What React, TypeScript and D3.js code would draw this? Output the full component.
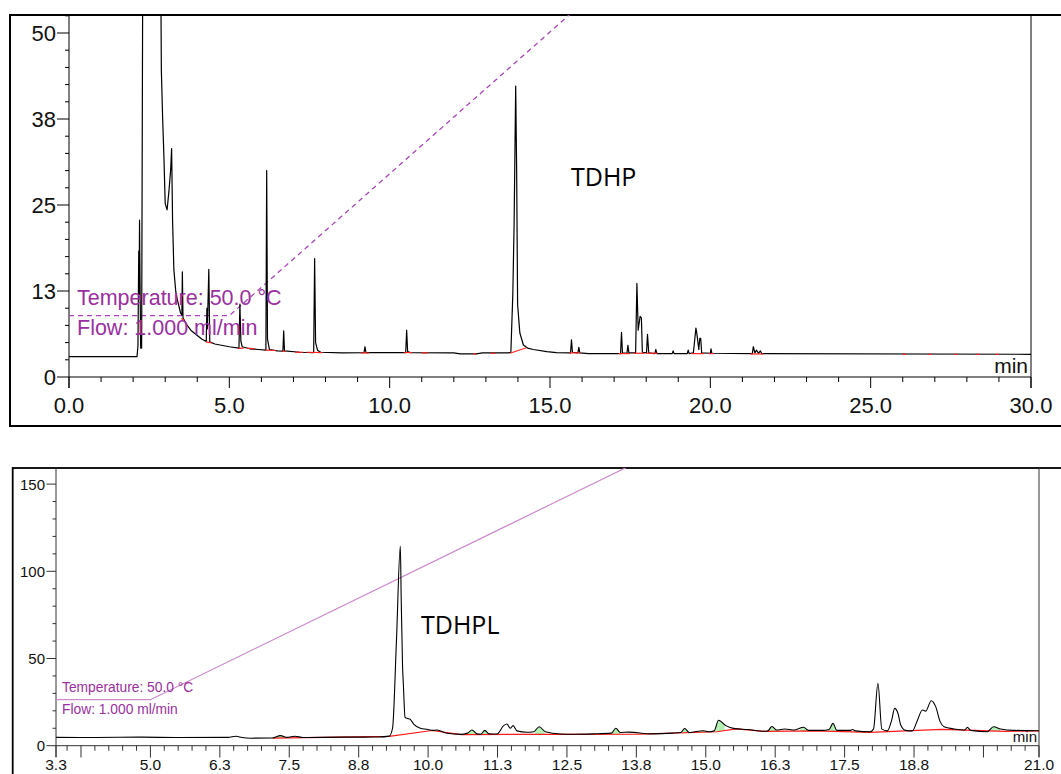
import React from 'react';
import * as d3 from 'd3';

// ---------- TOP CHART DATA (TDHP) ----------
// [time (min), signal]
const topTrace: [number, number][] = [
  [0, 2.95], [2.12, 2.95], [2.15, 4.5], [2.175, 18.3], [2.185, 12], [2.2, 22.8], [2.215, 13.7],
  [2.235, 4.2], [2.265, 4.2], [2.3, 60], [2.86, 60], [2.88, 44.6], [2.92, 37.6], [2.96, 32],
  [3.0, 25.2], [3.06, 24.3], [3.12, 27.2], [3.17, 30.1], [3.2, 33.2], [3.23, 22.8], [3.27, 15.6],
  [3.33, 12.4], [3.38, 11.2], [3.48, 9.3], [3.52, 9.0], [3.535, 15.3], [3.555, 8.6], [3.67, 7.6],
  [3.8, 6.8], [3.98, 6.1], [4.15, 5.5], [4.28, 5.15], [4.3, 10.0], [4.315, 7], [4.36, 15.65],
  [4.39, 5.1], [4.55, 4.8], [4.71, 4.65], [5.0, 4.4], [5.3, 4.2], [5.33, 10.6], [5.36, 5.2],
  [5.4, 4.4], [5.64, 4.1], [5.9, 4.0], [6.14, 3.9], [6.165, 30.0], [6.19, 5.5], [6.25, 4.0],
  [6.5, 3.8], [6.67, 3.75], [6.695, 6.7], [6.72, 3.8], [7.2, 3.6], [7.63, 3.55], [7.66, 17.2],
  [7.69, 5.0], [7.75, 3.9], [7.85, 3.6], [8.5, 3.5], [9.2, 3.55], [9.23, 4.4], [9.26, 3.55],
  [10.5, 3.55], [10.53, 6.8], [10.56, 3.7], [10.65, 3.55], [12.0, 3.5], [12.2, 3.35], [12.7, 3.35],
  [12.9, 3.5], [13.7, 3.5], [13.78, 3.6], [13.84, 12], [13.88, 22], [13.93, 42.3], [13.96, 30],
  [13.99, 10.5], [14.06, 6.4], [14.17, 4.65], [14.3, 4.2], [14.48, 4.0], [14.9, 3.7], [15.2, 3.55],
  [15.64, 3.5], [15.67, 5.4], [15.7, 3.6], [15.87, 3.5], [15.9, 4.3], [15.93, 3.5], [16.2, 3.4],
  [17.2, 3.4], [17.23, 6.5], [17.26, 3.5], [17.4, 3.45], [17.43, 4.6], [17.46, 3.5], [17.67, 3.5],
  [17.71, 13.6], [17.75, 6.8], [17.81, 8.8], [17.85, 8.6], [17.88, 3.6], [18.01, 3.5], [18.04, 6.2],
  [18.08, 3.5], [18.27, 3.4], [18.3, 4.0], [18.33, 3.4], [18.81, 3.4], [18.84, 3.8], [18.87, 3.4],
  [19.28, 3.4], [19.31, 3.9], [19.34, 3.4], [19.47, 3.5], [19.5, 4.8], [19.55, 7.1], [19.58, 6.3],
  [19.64, 4.0], [19.67, 5.6], [19.7, 5.6], [19.73, 3.5], [20.0, 3.45], [20.02, 4.1], [20.05, 3.45],
  [21.31, 3.4], [21.34, 4.4], [21.39, 3.5], [21.44, 3.9], [21.5, 3.45], [21.56, 3.8], [21.6, 3.4],
  [30, 3.3],
];
// integration baselines [t1, v1, t2, v2]
const topRedSegments: [number, number, number, number][] = [
  [3.5, 8.5, 3.58, 8.3], [4.27, 5.1, 4.45, 4.95], [5.28, 4.15, 5.45, 4.2], [5.55, 4.2, 5.8, 4.1],
  [6.12, 3.9, 6.45, 3.85], [6.65, 3.75, 6.75, 3.75], [7.05, 3.6, 7.3, 3.6], [7.4, 3.6, 7.9, 3.55],
  [9.1, 3.5, 9.35, 3.5], [10.45, 3.55, 10.7, 3.55], [11.0, 3.5, 11.2, 3.5], [12.6, 3.35, 12.7, 3.35],
  [13.15, 3.45, 13.3, 3.45], [13.75, 3.45, 14.27, 4.25], [15.6, 3.5, 15.95, 3.5],
  [17.15, 3.4, 17.5, 3.4], [17.6, 3.45, 17.95, 3.45], [18.0, 3.45, 18.35, 3.45],
  [19.4, 3.4, 19.8, 3.4], [19.95, 3.4, 20.1, 3.4], [21.25, 3.35, 21.65, 3.35],
  [26.0, 3.3, 26.1, 3.3], [26.8, 3.3, 26.9, 3.3], [27.6, 3.3, 27.7, 3.3], [28.3, 3.3, 28.4, 3.3],
  [28.9, 3.3, 29.0, 3.3],
];
const topXTicks = [0, 5, 10, 15, 20, 25, 30];
const topXTickLabels = ['0.0', '5.0', '10.0', '15.0', '20.0', '25.0', '30.0'];
const topYTicks = [0, 12.5, 25, 37.5, 50];
const topYTickLabels = ['0', '13', '25', '38', '50'];

// temperature program (°C)
const tempTimes = [0, 5.0, 30];
const tempValues = [50, 50, 300];

// ---------- BOTTOM CHART DATA (TDHPL) ----------
const bottomTrace: [number, number][] = [
  [3.3, 4.8], [4.0, 4.7], [4.8, 4.9], [5.5, 4.7], [6.4, 4.8], [6.54, 5.4], [6.65, 4.7], [6.8, 4.3],
  [7.2, 4.4], [7.34, 5.8], [7.46, 4.8], [7.6, 5.4], [7.75, 4.7], [8.5, 4.9], [9.1, 5.0], [9.3, 5.5],
  [9.36, 10], [9.43, 60], [9.5, 114.5], [9.515, 86], [9.54, 45.5], [9.555, 35], [9.585, 16.3],
  [9.63, 15.6], [9.67, 15.3], [9.74, 12.4], [9.86, 10.0], [9.98, 9.4], [10.08, 8.8], [10.16, 9.0],
  [10.34, 7.1], [10.58, 6.5], [10.71, 7.2], [10.79, 9.0], [10.88, 6.8], [10.95, 6.6], [11.02, 8.8],
  [11.1, 6.8], [11.24, 6.7], [11.36, 11.5], [11.42, 12.4], [11.48, 10.0], [11.53, 11.5], [11.6, 8.5],
  [11.78, 7.7], [11.9, 8.0], [12.0, 10.9], [12.11, 8.0], [12.38, 6.7], [12.62, 6.6], [12.98, 6.8],
  [13.3, 7.2], [13.38, 10.0], [13.46, 7.6], [13.61, 7.8], [14.02, 6.8], [14.4, 7.2], [14.55, 7.6],
  [14.62, 9.9], [14.7, 7.6], [14.96, 8.6], [15.05, 8.0], [15.15, 8.5], [15.23, 14.6], [15.36, 11.5],
  [15.52, 9.8], [15.75, 9.3], [16.05, 8.3], [16.12, 8.6], [16.19, 11.0], [16.28, 9.0], [16.42, 9.6],
  [16.6, 9.0], [16.76, 10.6], [16.85, 8.8], [17.1, 8.8], [17.22, 9.3], [17.29, 12.8], [17.36, 8.8],
  [17.6, 8.8], [17.64, 9.3], [17.7, 8.5], [17.96, 8.0], [18.02, 9.5], [18.1, 35.8], [18.17, 9.5],
  [18.27, 8.5], [18.35, 15], [18.4, 21.4], [18.46, 18.6], [18.51, 11.9], [18.6, 8.8], [18.72, 8.5],
  [18.81, 14.5], [18.9, 20.5], [18.96, 19.8], [19.06, 25.8], [19.14, 22.4], [19.22, 13.8],
  [19.29, 10.9], [19.47, 9.6], [19.66, 9.0], [19.71, 10.5], [19.77, 8.8], [20.07, 8.0], [20.18, 10.9],
  [20.31, 9.6], [20.55, 8.8], [21.0, 8.6],
];
const bottomRed: [number, number][] = [
  [7.2, 4.3], [9.3, 5.3], [10.07, 8.7], [10.6, 6.4], [12.4, 6.5], [13.8, 6.6], [15.2, 8.0],
  [15.55, 9.6], [16.05, 8.2], [17.0, 8.5], [17.95, 7.6], [19.25, 9.4], [20.4, 8.2], [21.0, 8.5],
];
const bottomGreenRanges: [number, number][] = [
  [7.25, 7.44], [10.1, 10.25], [10.7, 10.88], [10.96, 11.1], [11.92, 12.1], [13.3, 13.46],
  [14.56, 14.7], [14.92, 15.05], [15.16, 15.34], [16.12, 16.28], [16.7, 16.85], [17.23, 17.36],
  [20.12, 20.3],
];
const bottomXTicks = [3.3, 3.75, 5, 6.25, 7.5, 8.75, 10, 11.25, 12.5, 13.75, 15, 16.25, 17.5, 18.75, 20, 21];
const bottomXTickLabels = ['3.3', '', '5.0', '6.3', '7.5', '8.8', '10.0', '11.3', '12.5', '13.8', '15.0', '16.3', '17.5', '18.8', '', '21.0'];
const bottomYTicks = [0, 50, 100, 150];
const bottomYTickLabels = ['0', '50', '100', '150'];

const FONT = "'Liberation Sans', Arial, Helvetica, sans-serif";
const ANNOT_FONT = "'Open Sans', 'Noto Sans', sans-serif";
const PURPLE = '#9a2fa0';

export default function App() {
  // ---------- top scales ----------
  const tx = d3.scaleLinear().domain([0, 30]).range([69, 1031]);
  const ty = d3.scaleLinear().domain([0, 50]).range([377, 33]);
  const tTemp = d3.scaleLinear().domain([50, 150]).range([315.7, 315.7 - 283.8]);
  const topLine = d3.line<[number, number]>().x(d => tx(d[0])).y(d => ty(d[1]));
  const topTemp = d3.line<number>().x((_, i) => tx(tempTimes[i])).y((_, i) => tTemp(tempValues[i]));
  const topXMinor = d3.range(0, 30.001, 1).filter(v => v % 5 !== 0);
  const topYMinor = d3.range(0, 52.6, 2.5).filter(v => Math.abs(v / 12.5 - Math.round(v / 12.5)) > 1e-6);

  // ---------- bottom scales ----------
  const bx = d3.scaleLinear().domain([3.3, 21]).range([56, 1039]);
  const by = d3.scaleLinear().domain([0, 150]).range([745.7, 484.1]);
  const bTemp = d3.scaleLinear().domain([50, 150]).range([699.7, 699.7 - 271]);
  const bottomLine = d3.line<[number, number]>().x(d => bx(d[0])).y(d => by(d[1])).curve(d3.curveMonotoneX);
  const redLine = d3.line<[number, number]>().x(d => bx(d[0])).y(d => by(d[1]));
  const bottomTemp = d3.line<number>().x((_, i) => bx(tempTimes[i])).y((_, i) => bTemp(tempValues[i]));
  const bXMinor = d3.range(3.5, 21.001, 0.25).filter(v => !bottomXTicks.some(t => Math.abs(t - v) < 1e-6));
  const bYMinor = d3.range(0, 160, 10).filter(v => v % 50 !== 0);

  const traceInterp = d3.scaleLinear().domain(bottomTrace.map(d => d[0])).range(bottomTrace.map(d => d[1]));
  const redInterp = d3.scaleLinear().domain(bottomRed.map(d => d[0])).range(bottomRed.map(d => d[1]));
  const greenArea = d3.area<number>().x(t => bx(t)).y0(t => by(redInterp(t))).y1(t => by(Math.max(redInterp(t), traceInterp(t))));

  return (
    <div style={{ position: 'absolute', left: 0, top: 0 }}>
      <svg width={1061} height={774} style={{ display: 'block', background: '#fff' }}>
        <defs>
          <clipPath id="topClip"><rect x={69} y={15} width={962} height={362} /></clipPath>
          <clipPath id="botClip"><rect x={56} y={468} width={983} height={278} /></clipPath>
        </defs>

        {/* ===== TOP CHART ===== */}
        <rect x={10} y={15} width={1080} height={411} fill="none" stroke="#000" strokeWidth={2} />
        <line x1={69} y1={15} x2={69} y2={388} stroke="#000" strokeWidth={1} />
        <line x1={1031} y1={15} x2={1031} y2={388} stroke="#000" strokeWidth={1} />
        <line x1={69} y1={377} x2={1031} y2={377} stroke="#000" strokeWidth={1} />
        {topYTicks.map((v, i) => (
          <g key={'ty' + i}>
            <line x1={57} x2={69} y1={ty(v)} y2={ty(v)} stroke="#000" />
            <text x={56} y={ty(v)} dy="0.36em" textAnchor="end" fontFamily={FONT} fontSize={22} fill="#111">{topYTickLabels[i]}</text>
          </g>
        ))}
        {topYMinor.map((v, i) => (
          <line key={'tym' + i} x1={65} x2={69} y1={ty(v)} y2={ty(v)} stroke="#000" />
        ))}
        {topXTicks.map((v, i) => (
          <g key={'tx' + i}>
            <line x1={tx(v)} x2={tx(v)} y1={377} y2={388} stroke="#000" />
            <text x={tx(v)} y={413} textAnchor="middle" fontFamily={FONT} fontSize={22} fill="#111">{topXTickLabels[i]}</text>
          </g>
        ))}
        {topXMinor.map((v, i) => (
          <line key={'txm' + i} x1={tx(v)} x2={tx(v)} y1={377} y2={382} stroke="#000" />
        ))}
        <text x={1028} y={373} textAnchor="end" fontFamily={FONT} fontSize={21} fill="#111">min</text>

        <g clipPath="url(#topClip)">
          <path d={topTemp(tempValues) || ''} fill="none" stroke="#a845b8" strokeWidth={1.3} strokeDasharray="5,4" />
          <path d={topLine(topTrace) || ''} fill="none" stroke="#000" strokeWidth={1.2} strokeLinejoin="round" />
          {topRedSegments.map((s, i) => (
            <line key={'tr' + i} x1={tx(s[0])} y1={ty(s[1])} x2={tx(s[2])} y2={ty(s[3])} stroke="#ff2020" strokeWidth={1.2} />
          ))}
        </g>
        <text x={77} y={305} fontFamily={FONT} fontSize={21.5} fill={PURPLE}>Temperature: 50.0 °C</text>
        <text x={77} y={335} fontFamily={FONT} fontSize={21.5} fill={PURPLE}>Flow: 1.000 ml/min</text>
        <text x={571} y={186} fontFamily={ANNOT_FONT} fontSize={25} fill="#000">TDHP</text>

        {/* ===== BOTTOM CHART ===== */}
        <rect x={12.7} y={468} width={1080} height={400} fill="none" stroke="#000" strokeWidth={1.8} />
        <line x1={56} y1={468} x2={56} y2={757} stroke="#333" strokeWidth={1} />
        <line x1={1039} y1={468} x2={1039} y2={757} stroke="#333" strokeWidth={1} />
        <line x1={56} y1={745.7} x2={1039} y2={745.7} stroke="#333" strokeWidth={1} />
        {bottomYTicks.map((v, i) => (
          <g key={'by' + i}>
            <line x1={46.5} x2={56} y1={by(v)} y2={by(v)} stroke="#333" />
            <text x={45} y={by(v)} dy="0.36em" textAnchor="end" fontFamily={FONT} fontSize={15} fill="#111">{bottomYTickLabels[i]}</text>
          </g>
        ))}
        {bYMinor.map((v, i) => (
          <line key={'bym' + i} x1={52.5} x2={56} y1={by(v)} y2={by(v)} stroke="#333" />
        ))}
        {bottomXTicks.map((v, i) => (
          <g key={'bx' + i}>
            <line x1={bx(v)} x2={bx(v)} y1={745.7} y2={757.5} stroke="#333" />
            {bottomXTickLabels[i] && (
              <text x={bx(v)} y={770} textAnchor="middle" fontFamily={FONT} fontSize={15.5} fill="#111">{bottomXTickLabels[i]}</text>
            )}
          </g>
        ))}
        {bXMinor.map((v, i) => (
          <line key={'bxm' + i} x1={bx(v)} x2={bx(v)} y1={745.7} y2={750.7} stroke="#333" />
        ))}
        <text x={1037} y={742} textAnchor="end" fontFamily={FONT} fontSize={15} fill="#111">min</text>

        <g clipPath="url(#botClip)">
          <path d={bottomTemp(tempValues) || ''} fill="none" stroke="#cc8ccc" strokeWidth={1.2} />
          {bottomGreenRanges.map((r, i) => {
            const ts = [r[0], ...bottomTrace.map(d => d[0]).filter(t => t > r[0] && t < r[1]), r[1]];
            return <path key={'g' + i} d={greenArea(ts) || ''} fill="#b4f0b4" stroke="none" />;
          })}
          <path d={redLine(bottomRed) || ''} fill="none" stroke="#ff1a1a" strokeWidth={1.2} />
          <path d={bottomLine(bottomTrace) || ''} fill="none" stroke="#000" strokeWidth={1.1} />
        </g>
        <text x={62} y={692} fontFamily={FONT} fontSize={13.8} fill={PURPLE}>Temperature: 50.0 °C</text>
        <text x={62} y={714} fontFamily={FONT} fontSize={13.8} fill={PURPLE}>Flow: 1.000 ml/min</text>
        <text x={421} y={634} fontFamily={ANNOT_FONT} fontSize={25} fill="#000">TDHPL</text>
      </svg>
    </div>
  );
}
